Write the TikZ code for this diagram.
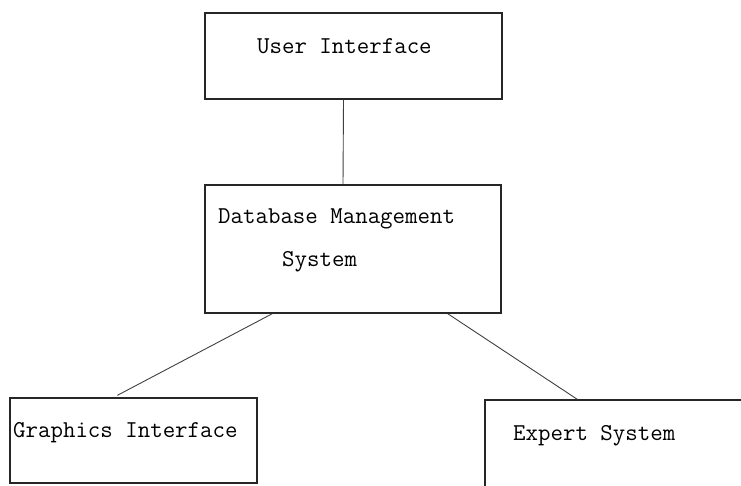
\documentclass[tikz,border=0pt]{standalone}
\usepackage{tikz}
\usetikzlibrary{calc}
\tikzset{
  box/.style = {draw=black!85, line width=1.3pt, rectangle, inner sep=0pt},
  label txt/.style = {font=\ttfamily\fontsize{24.2}{28}\selectfont, inner sep=0pt, anchor=base west},
  link/.style = {color=black!75, line width=0.9pt}
}
\begin{document}
\begin{tikzpicture}[x=1pt, y=-1pt]

    % Frame
    \clip (0,0) rectangle (741,485);

    % Boxes
    \node[box, minimum width=297pt, minimum height=86pt] (ui) at (353.5,56) {};
    \node[box, minimum width=296pt, minimum height=128pt] (db) at (353,249) {};
    \node[box, minimum width=247pt, minimum height=85pt] (gfx) at (133.5,440.5) {};
    \node[box, minimum width=315pt, minimum height=120pt] (exp) at (642.5,460) {};

    % Texts
    \node[label txt] (uiTxt) at (257,53) {User Interface};
    \node[label txt] (dbTxt) at (218,223) {Database Management};
    \node[label txt] (dbTxtB) at (282,266) {System};
    \node[label txt] (gfxTxt) at (13,437) {Graphics Interface};
    \node[label txt] (expTxt) at (513,440) {Expert System};

    % Links
    \draw[link] ([xshift=-10pt]ui.south) -- ([xshift=-10pt]db.north);
    \draw[link] ([xshift=68pt]db.south west) -- ([xshift=108pt,yshift=2pt]gfx.north west);
    \draw[link] ([xshift=-54pt]db.south east) -- ([xshift=93pt]exp.north west);

\end{tikzpicture}
\end{document}
